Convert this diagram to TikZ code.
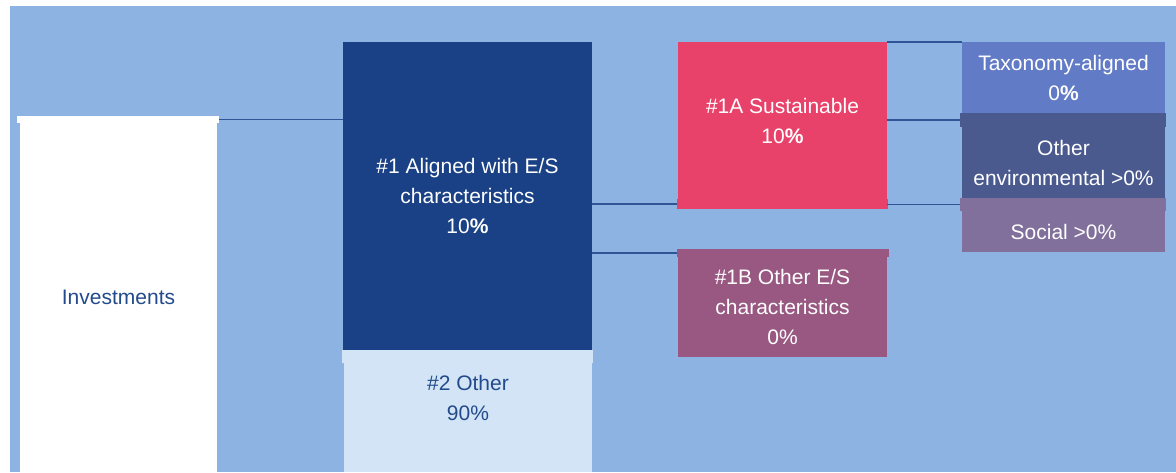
\documentclass[tikz,border=0pt]{standalone}
\usepackage{fontspec}
\setmainfont{Liberation Sans}
\definecolor{bgblue}{HTML}{8DB3E2}
\definecolor{alignblue}{HTML}{1A4185}
\definecolor{otherblue}{HTML}{D2E4F5}
\definecolor{suspink}{HTML}{E8426A}
\definecolor{espurple}{HTML}{985882}
\definecolor{taxblue}{HTML}{627BC6}
\definecolor{envblue}{HTML}{4A5A8F}
\definecolor{socviolet}{HTML}{80709B}
\definecolor{darktext}{HTML}{234B8C}
\definecolor{linecol}{HTML}{2F5597}
\begin{document}
\begin{tikzpicture}[
    x=1pt, y=-1pt,
    box/.style={rectangle,inner sep=0pt,outer sep=0pt,align=center,
                text=white,font=\fontsize{21}{30}\selectfont},
    darkbox/.style={box,text=darktext},
    conn/.style={draw=linecol,line width=1.3pt}]
    \useasboundingbox (0, 0) rectangle (1176, 472);

    % Hintergrund
    \fill[bgblue] (10, 6) rectangle (1176, 472);

    % Investitionen
    \node[darkbox,fill=white,minimum width=202pt,minimum height=7pt] (invcap) at (118, 119.5) {};
    \node[darkbox,fill=white,minimum width=197pt,minimum height=349pt] (inv) at (118.5, 297.5) {Investments};

    % #1 und #2
    \node[box,fill=alignblue,minimum width=249pt,minimum height=308pt] (one) at (467.5, 196)
        {\#1 Aligned with E/S\\characteristics\\10\textbf{\%}};
    \node[box,fill=otherblue,minimum width=251pt,minimum height=13pt] (twocap) at (467.5, 356.5) {};
    \node[box,fill=otherblue,minimum width=248pt,minimum height=109pt] (two) at (468, 417.5) {};
    \node[darkbox] (twotxt) at (468, 398) {\#2 Other\\90\%};

    % #1A und #1B
    \node[box,fill=suspink,minimum width=209pt,minimum height=157pt] (sus) at (782.5, 120.5)
        {\#1A Sustainable\\10\textbf{\%}};
    \node[box,fill=suspink,minimum width=211pt,minimum height=10pt] (suscap) at (782.5, 204) {};
    \node[box,fill=espurple,minimum width=212pt,minimum height=8pt] (escap) at (783, 253) {};
    \node[box,fill=espurple,minimum width=209pt,minimum height=100pt] (es) at (782.5, 307)
        {\#1B Other E/S\\characteristics\\0\%};

    % Unterteilung
    \node[box,fill=taxblue,minimum width=203pt,minimum height=71pt] (tax) at (1063.5, 77.5)
        {Taxonomy-aligned\\0\textbf{\%}};
    \node[box,fill=envblue,minimum width=206pt,minimum height=14pt] (envcap) at (1063, 120) {};
    \node[box,fill=envblue,minimum width=203pt,minimum height=71pt] (env) at (1063.5, 162.5)
        {Other\\environmental >0\%};
    \node[box,fill=socviolet,minimum width=206pt,minimum height=13pt] (soccap) at (1063, 204.5) {};
    \node[box,fill=socviolet,minimum width=203pt,minimum height=41pt] (soc) at (1063.5, 231.5)
        {Social >0\%};

    % Verbindungen
    \draw[conn] (invcap.east) -- (invcap.east -| one.west);
    \draw[conn] (suscap.west -| one.east) -- (suscap.west);
    \draw[conn] (escap.west -| one.east) -- (escap.west);
    \draw[conn] (sus.north east) -- (tax.north west);
    \draw[conn] (envcap.west -| sus.east) -- (envcap.west);
    \draw[conn] (soccap.west -| sus.east) -- (soccap.west);
\end{tikzpicture}
\end{document}
